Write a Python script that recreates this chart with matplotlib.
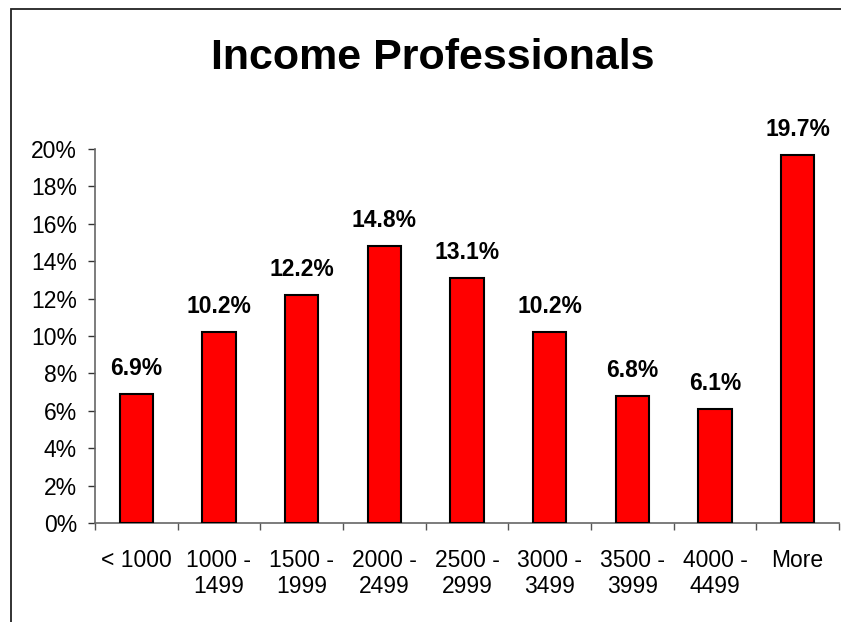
import matplotlib
matplotlib.use("Agg")
import matplotlib.pyplot as plt
from matplotlib.patches import Rectangle
from matplotlib.ticker import FuncFormatter

categories = ["< 1000", "1000 -\n1499", "1500 -\n1999", "2000 -\n2499", "2500 -\n2999",
              "3000 -\n3499", "3500 -\n3999", "4000 -\n4499", "More"]
shares = [6.9, 10.2, 12.2, 14.8, 13.1, 10.2, 6.8, 6.1, 19.7]
y_ticks = [0, 2, 4, 6, 8, 10, 12, 14, 16, 18, 20]

W, H = 841, 622
plt.rcParams["font.family"] = ["Liberation Sans", "DejaVu Sans"]
fig = plt.figure(figsize=(W / 100, H / 100), dpi=100)

# plot area in pixel terms
left, right, top, bottom = 95, 839, 149, 523
ax = fig.add_axes([left / W, 1 - bottom / H, (right - left) / W, (bottom - top) / H])

x = list(range(len(categories)))
ax.bar(x, shares, width=0.4, color="#ff0000", edgecolor="black", linewidth=1.5, zorder=3)
for xi, v in zip(x, shares):
    ax.annotate(f"{v:.1f}%", (xi, v), xytext=(0, 10), textcoords="offset points",
                ha="center", va="bottom", fontsize=16.5, fontweight="bold")

ax.set_xlim(-0.5, len(categories) - 0.5)
ax.set_ylim(0, 20)
ax.set_yticks(y_ticks)
ax.yaxis.set_major_formatter(FuncFormatter(lambda v, p: f"{v:.0f}%"))
ax.set_xticks(x)
ax.set_xticklabels(categories, fontsize=16.5, linespacing=1.15)
ax.set_xticks([i - 0.5 for i in range(len(categories) + 1)], minor=True)
ax.tick_params(axis="x", which="major", length=0, pad=19)
ax.tick_params(axis="x", which="minor", length=5, width=1, direction="out", color="#555555")
ax.tick_params(axis="y", length=5, width=1, direction="out", labelsize=16.5, pad=8, color="#333333")

for s in ("top", "right"):
    ax.spines[s].set_visible(False)
for s in ("left", "bottom"):
    ax.spines[s].set_color("#666666")
    ax.spines[s].set_linewidth(1.2)

fig.text(433 / W, 1 - 58 / H, "Income Professionals", ha="center", va="center",
         fontsize=31, fontweight="bold")

# chart frame running off the lower right
fig.patches.append(Rectangle((11 / W, -0.1), 1.2, 1 - 9 / H + 0.1, transform=fig.transFigure,
                             fill=False, edgecolor="#222222", linewidth=1.3))

fig.savefig("out.png", dpi=100)
